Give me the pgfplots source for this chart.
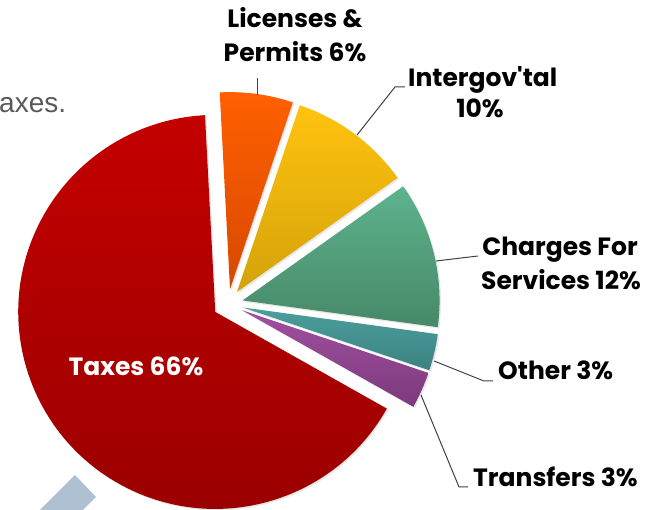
\documentclass[border=0pt]{standalone}
\usepackage{fontspec}
\setmainfont{Poppins}
\newfontfamily\arialfont{Liberation Sans}
\usepackage{pgfplots}
\usepackage{pgfplotstable}
\pgfplotsset{compat=1.18}

% slice colours, gradient top -> bottom
\definecolor{c0t}{HTML}{FF6000}\definecolor{c0b}{HTML}{D84800}
\definecolor{c1t}{HTML}{FFC30F}\definecolor{c1b}{HTML}{D4A20A}
\definecolor{c2t}{HTML}{5DB38D}\definecolor{c2b}{HTML}{478868}
\definecolor{c3t}{HTML}{4C9E9E}\definecolor{c3b}{HTML}{3B8282}
\definecolor{c4t}{HTML}{A150A1}\definecolor{c4b}{HTML}{7C3A7C}
\definecolor{c5t}{HTML}{C40000}\definecolor{c5b}{HTML}{980000}
\definecolor{leader}{HTML}{404040}
\definecolor{band}{HTML}{AFC0D3}

\pgfplotstableread{
name value
Licenses 6
Intergov 10
Charges 12
Other 3
Transfers 3
Taxes 66
}\piedata

\begin{document}
\begin{tikzpicture}
% cumulative angles, clockwise from 93 degrees
\def\cum{93}
\pgfplotsforeachungrouped \i in {0,...,5}{%
  \pgfplotstablegetelem{\i}{value}\of\piedata
  \pgfmathsetmacro\aS{\cum}%
  \pgfmathsetmacro\aE{\cum-3.6*\pgfplotsretval}%
  \pgfmathsetmacro\aM{(\aS+\aE)/2}%
  \expandafter\xdef\csname pa\i\endcsname{\aS}%
  \expandafter\xdef\csname pb\i\endcsname{\aE}%
  \expandafter\xdef\csname pm\i\endcsname{\aM}%
  \xdef\cum{\aE}%
}
\begin{axis}[
  name=ax,
  x=1pt, y=1pt, y dir=reverse,
  xmin=0, xmax=662, ymin=0, ymax=510,
  hide axis, clip=false,
]
\addplot[fill=band, draw=none] coordinates {(75,475) (96,497) (63,530) (20,530)} -- cycle;

\node[anchor=base west, font=\arialfont\fontsize{28}{30}\selectfont, text=black!65, inner sep=0pt]
  at (axis cs:-1,113) {axes.};

% soft shadows then slices
\pgfplotsinvokeforeach{0,...,5}{
  \fill[black!9] ([shift={(\csname pm#1\endcsname:15pt)}]axis cs:229.5,305.5)
    -- ++(\csname pa#1\endcsname:197pt)
    arc[start angle=\csname pa#1\endcsname, end angle=\csname pb#1\endcsname, radius=197pt] -- cycle;
}
\pgfplotsinvokeforeach{0,...,5}{
  \shade[top color=c#1t, bottom color=c#1b] ([shift={(\csname pm#1\endcsname:15pt)}]axis cs:228,304)
    -- ++(\csname pa#1\endcsname:197pt)
    arc[start angle=\csname pa#1\endcsname, end angle=\csname pb#1\endcsname, radius=197pt] -- cycle;
}

% leader lines
\draw[leader, line width=1pt] (axis cs:257,78) -- (axis cs:257,95);
\draw[leader, line width=1pt] (axis cs:357,135) -- (axis cs:395,87) -- (axis cs:405,87);
\draw[leader, line width=1pt] (axis cs:436,261) -- (axis cs:478,256);
\draw[leader, line width=1pt] (axis cs:434,361) -- (axis cs:484,381) -- (axis cs:493,381);
\draw[leader, line width=1pt] (axis cs:421,395) -- (axis cs:459,487) -- (axis cs:468,487);

% labels
\tikzset{lbl/.style={font=\bfseries\fontsize{25}{28}\selectfont, inner sep=0pt}}
\node[lbl, anchor=base] at (axis cs:295,28) {Licenses \&};
\node[lbl, anchor=base] at (axis cs:295,62) {Permits 6\%};
\node[lbl, anchor=base west] at (axis cs:408,87) {Intergov\textquotesingle tal};
\node[lbl, anchor=base] at (axis cs:480,118) {10\%};
\node[lbl, anchor=base] at (axis cs:560,256) {Charges For};
\node[lbl, anchor=base] at (axis cs:561,290) {Services 12\%};
\node[lbl, anchor=base west] at (axis cs:498,380) {Other 3\%};
\node[lbl, anchor=base west] at (axis cs:473,487) {Transfers 3\%};
\node[lbl, anchor=base, text=white] at (axis cs:136,376) {Taxes 66\%};
\end{axis}
\pgfresetboundingbox
\useasboundingbox (ax.south west) rectangle (ax.north east);
\end{tikzpicture}
\end{document}
